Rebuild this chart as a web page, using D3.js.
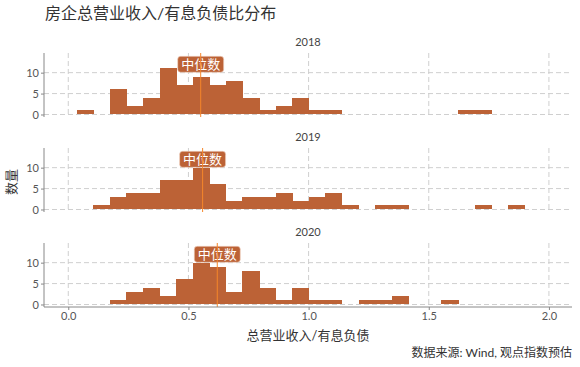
<!DOCTYPE html>
<html>
<head>
<meta charset="utf-8">
<script src="https://cdn.jsdelivr.net/npm/d3@7"></script>
<style>
  body { margin: 0; background: #fff; }
  text { font-family: Lato, 'Noto Sans CJK SC', sans-serif; }
</style>
</head>
<body>
<div id="chart"></div>
<script>
// histogram data (count per bin)
let years = ['2018', '2019', '2020'];
let binStart = 0.0349;
let binWidth = 0.069;
let counts2018 = [1,0,6,2,4,11,7,9,7,8,4,1,2,4,1,1,0,0,0,0,0,0,0,1,1];
let counts2019 = [0,1,3,4,4,7,7,10,6,2,3,3,4,2,3,4,1,0,1,1,0,0,0,0,1,0,1];
let counts2020 = [0,0,1,3,4,2,6,10,9,3,8,4,1,4,1,1,0,1,1,2,0,0,1];
let medians = [0.551, 0.559, 0.620];
let xTicks = [0, 0.5, 1.0, 1.5, 2.0];
let yTicks = [0, 5, 10];

let width = 580;
let height = 367;
let margin = {top: 53, right: 8, left: 44};
let panelH = 64;
let panelGap = 95;
let barColor = '#bc6236';

let svg = d3.select('#chart')
    .append('svg')
    .attr('width', width)
    .attr('height', height);

let x = d3.scaleLinear()
    .domain([-0.101, 2.096])
    .range([margin.left, width - margin.right]);

let y = d3.scaleLinear()
    .domain([-0.6, 14.7])
    .range([panelH, 0]);

// title
svg.append('text')
    .attr('x', 45)
    .attr('y', 19)
    .attr('font-size', 16)
    .attr('fill', '#333')
    .text('房企总营业收入/有息负债比分布');

let allCounts = [counts2018, counts2019, counts2020];

years.forEach((yr, i) => {
    let g = svg.append('g')
        .attr('transform', `translate(0, ${margin.top + i * panelGap})`);

    let data = allCounts[i].map((c, k) => ({x0: binStart + k * binWidth, x1: binStart + (k + 1) * binWidth, n: c}))
        .filter(d => d.n > 0);

    // strip label
    g.append('text')
        .attr('x', (x.range()[0] + x.range()[1]) / 2)
        .attr('y', -7)
        .attr('text-anchor', 'middle')
        .attr('font-size', 11)
        .attr('fill', '#444')
        .text(yr);

    // grid
    g.selectAll('.hgrid')
        .data(yTicks)
        .enter()
        .append('line')
            .attr('x1', x.range()[0])
            .attr('x2', x.range()[1])
            .attr('y1', d => y(d))
            .attr('y2', d => y(d))
            .attr('stroke', '#cfcfcf')
            .attr('stroke-dasharray', '5,3');
    g.selectAll('.vgrid')
        .data(xTicks)
        .enter()
        .append('line')
            .attr('x1', d => x(d))
            .attr('x2', d => x(d))
            .attr('y1', 0)
            .attr('y2', panelH)
            .attr('stroke', '#cfcfcf')
            .attr('stroke-dasharray', '5,3');

    // bars
    g.selectAll('.bar')
        .data(data)
        .enter()
        .append('rect')
            .attr('x', d => x(d.x0))
            .attr('y', d => y(d.n))
            .attr('width', d => x(d.x1) - x(d.x0) + 0.5)
            .attr('height', d => y(0) - y(d.n))
            .attr('fill', barColor)
            .attr('shape-rendering', 'crispEdges');

    // median label
    let lab = g.append('g')
        .attr('transform', `translate(${x(medians[i])}, ${y(12)})`);
    lab.append('rect')
        .attr('x', -23)
        .attr('y', -8)
        .attr('width', 46)
        .attr('height', 16)
        .attr('rx', 3)
        .attr('fill', barColor)
        .attr('stroke', '#f1d6c8')
        .attr('stroke-width', 0.6);
    lab.append('text')
        .attr('text-anchor', 'middle')
        .attr('dy', '0.36em')
        .attr('font-size', 13)
        .attr('fill', '#fff')
        .text('中位数');

    // median line
    g.append('line')
        .attr('x1', x(medians[i]))
        .attr('x2', x(medians[i]))
        .attr('y1', 0)
        .attr('y2', panelH)
        .attr('stroke', '#f5862a')
        .attr('stroke-width', 1);

    // y axis
    let yAxis = g.append('g')
        .attr('transform', `translate(${margin.left}, 0)`)
        .call(d3.axisLeft(y).tickValues(yTicks).tickSize(3).tickPadding(2));
    yAxis.select('.domain').attr('stroke', '#888').attr('d', `M0,0V${panelH}`);
    yAxis.selectAll('.tick line').attr('stroke', '#888');
    yAxis.selectAll('text').attr('font-size', 11).attr('fill', '#555')
        .style('font-family', "Lato, 'Noto Sans CJK SC', sans-serif");

    // x axis on the last panel
    if (i === years.length - 1) {
        let xAxis = g.append('g')
            .attr('transform', `translate(0, ${panelH})`)
            .call(d3.axisBottom(x).tickValues(xTicks).tickFormat(d3.format('.1f')).tickSize(3).tickPadding(2));
        xAxis.select('.domain').attr('stroke', '#888').attr('d', `M${x.range()[0]},0H${x.range()[1]}`);
        xAxis.selectAll('.tick line').attr('stroke', '#888');
        xAxis.selectAll('text').attr('font-size', 11).attr('fill', '#555')
            .style('font-family', "Lato, 'Noto Sans CJK SC', sans-serif");
    }
});

// axis titles
svg.append('text')
    .attr('x', (x.range()[0] + x.range()[1]) / 2)
    .attr('y', 340)
    .attr('text-anchor', 'middle')
    .attr('font-size', 13)
    .attr('fill', '#333')
    .text('总营业收入/有息负债');

svg.append('text')
    .attr('transform', 'translate(16, 182) rotate(-90)')
    .attr('text-anchor', 'middle')
    .attr('font-size', 13)
    .attr('fill', '#333')
    .text('数量');

// caption
svg.append('text')
    .attr('x', 572)
    .attr('y', 357)
    .attr('text-anchor', 'end')
    .attr('font-size', 12)
    .attr('fill', '#333')
    .text('数据来源: Wind, 观点指数预估');
</script>
</body>
</html>
